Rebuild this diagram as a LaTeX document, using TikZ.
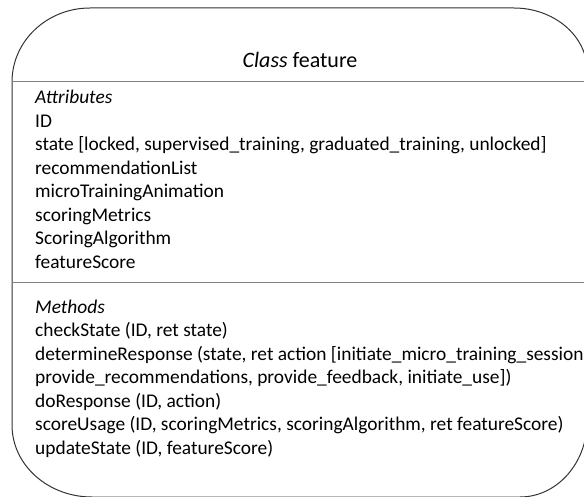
\documentclass[tikz,border=0pt]{standalone}
\usepackage{fontspec}
\setmainfont{Carlito}
\begin{document}
\begin{tikzpicture}[x=1pt,y=-1pt,
  txt/.style={anchor=base west,inner sep=0pt,font=\fontsize{19.4}{23.5}\selectfont},
  title/.style={anchor=base,inner sep=0pt,font=\fontsize{22}{26}\selectfont},
  divider/.style={draw=black!50,line width=1pt},
  outline/.style={draw=black!80,line width=1pt}]
\useasboundingbox (0,0) rectangle (584,497);
\clip (0,0) rectangle (584,497);
% outline: left 12, top 8, right 587, bottom 497
\coordinate (tl1) at (12,82);
\coordinate (tl2) at (90,8);
\coordinate (tr1) at (514,8);
\coordinate (tr2) at (587,70);
\coordinate (br1) at (587,422);
\coordinate (br2) at (520,497);
\coordinate (bl1) at (92,497);
\coordinate (bl2) at (12,425);
\draw[outline] (tl1) .. controls (12,41) and (47,8) .. (tl2)
  -- (tr1) .. controls (554,8) and (587,36) .. (tr2)
  -- (br1) .. controls (587,463) and (557,497) .. (br2)
  -- (bl1) .. controls (48,497) and (12,465) .. (bl2) -- cycle;
\draw[divider] (12,82) -- (590,82);
\draw[divider] (12,283) -- (590,283);
\node[title] (t) at (300,68) {\textit{Class} feature};
\node[txt] (a0) at (35,104) {\textit{Attributes}};
\node[txt] (a1) at (35,127.5) {ID};
\node[txt] (a2) at (35,151) {state [locked, supervised\_training, graduated\_training, unlocked]};
\node[txt] (a3) at (35,174.5) {recommendationList};
\node[txt] (a4) at (35,198) {microTrainingAnimation};
\node[txt] (a5) at (35,221.5) {scoringMetrics};
\node[txt] (a6) at (35,245) {ScoringAlgorithm};
\node[txt] (a7) at (35,268.5) {featureScore};
\node[txt] (m0) at (35,313) {\textit{Methods}};
\node[txt] (m1) at (35,336.5) {checkState (ID, ret state)};
\node[txt] (m2) at (35,360) {determineResponse (state, ret action [initiate\_micro\_training\_session,};
\node[txt] (m3) at (35,383.5) {provide\_recommendations, provide\_feedback, initiate\_use])};
\node[txt] (m4) at (35,407) {doResponse (ID, action)};
\node[txt] (m5) at (35,430.5) {scoreUsage (ID, scoringMetrics, scoringAlgorithm, ret featureScore)};
\node[txt] (m6) at (35,454) {updateState (ID, featureScore)};
\end{tikzpicture}
\end{document}
